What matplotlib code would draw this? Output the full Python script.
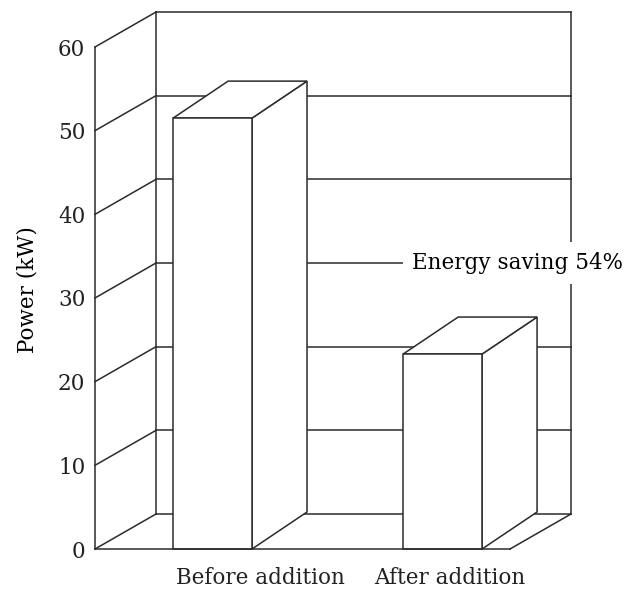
import numpy as np
import matplotlib as mpl
mpl.use('Agg')
import matplotlib.pyplot as plt
from matplotlib.patches import Polygon

# data
categories = ['Before addition', 'After addition']
power = [51.5, 23.3]            # kW
yticks = [0, 10, 20, 30, 40, 50, 60]
note = 'Energy saving 54%'

plt.rcParams['font.family'] = ['DejaVu Serif']
ink = '#2b2b2b'
fs = 15.5

fig = plt.figure(figsize=(6.29, 5.92), dpi=100)
ax = fig.add_axes([95/629, 43/592, 415/629, 502/592])
ax.set_xlim(-0.511, 1.293)
ax.set_ylim(0, 60)

x0, x1 = ax.get_xlim()
# depth offsets (data units) for the back wall and for the bar boxes
wdx, wdy = 61/230, 35/8.367
bdx, bdy = 55/230, 37/8.367
bw = 0.343

lw = 1.1
# left wall diagonals + back wall grid
for v in yticks:
    ax.plot([x0, x0 + wdx], [v, v + wdy], color=ink, lw=lw, clip_on=False, zorder=1)
    ax.plot([x0 + wdx, x1 + wdx], [v + wdy, v + wdy], color=ink, lw=lw, clip_on=False, zorder=1)
ax.plot([x0 + wdx, x0 + wdx], [wdy, 60 + wdy], color=ink, lw=lw, clip_on=False, zorder=1)
ax.plot([x1 + wdx, x1 + wdx], [wdy, 60 + wdy], color=ink, lw=lw, clip_on=False, zorder=1)
ax.plot([x1, x1 + wdx], [0, wdy], color=ink, lw=lw, clip_on=False, zorder=1)

# 3d-looking bars
for i, v in enumerate(power):
    l, r = i - bw/2, i + bw/2
    front = [(l, 0), (r, 0), (r, v), (l, v)]
    side = [(r, 0), (r + bdx, bdy), (r + bdx, v + bdy), (r, v)]
    top = [(l, v), (r, v), (r + bdx, v + bdy), (l + bdx, v + bdy)]
    for pts in (side, top, front):
        ax.add_patch(Polygon(pts, closed=True, facecolor='white', edgecolor=ink,
                             lw=lw, clip_on=False, zorder=3, joinstyle='miter'))

ax.text(1 - bw/2 + 0.04, 30 + wdy, note, fontsize=fs, va='center', ha='left', zorder=4,
        bbox=dict(facecolor='white', edgecolor='none', pad=7))

for s in ['top', 'right']:
    ax.spines[s].set_visible(False)
for s in ['left', 'bottom']:
    ax.spines[s].set_color(ink)
    ax.spines[s].set_linewidth(lw)
    ax.spines[s].set_zorder(5)

ax.set_yticks(yticks)
ax.set_xticks([0.21, 1.03])
ax.set_xticklabels(categories)
ax.tick_params(axis='both', length=0, labelsize=fs, colors='#222222')
ax.tick_params(axis='y', pad=7)
ax.tick_params(axis='x', pad=13)
ax.set_ylabel('Power (kW)', fontsize=fs)
ax.yaxis.set_label_coords(-0.137, 0.516)
ax.patch.set_visible(False)

fig.savefig('out.png', dpi=100)
